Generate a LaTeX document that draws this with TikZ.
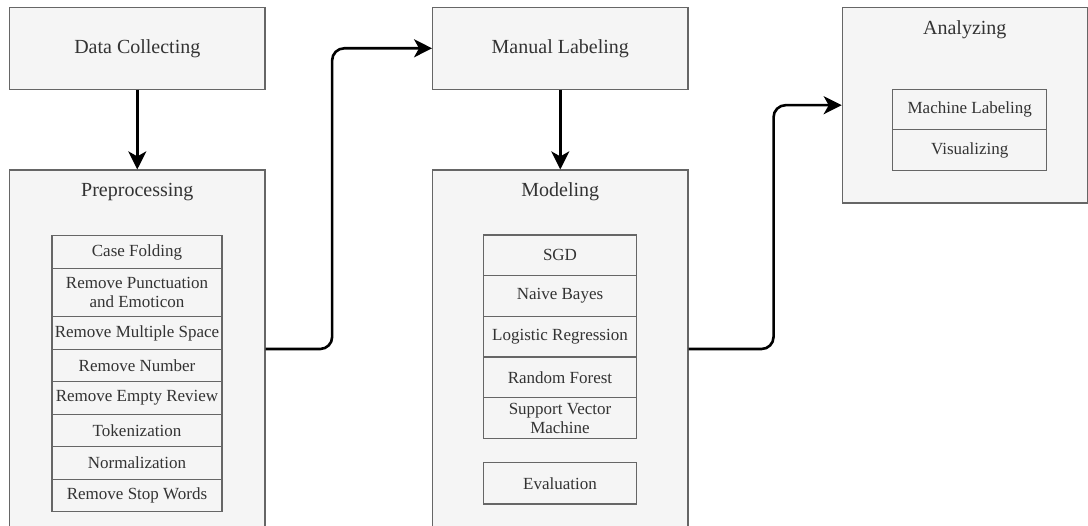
\documentclass[tikz,border=0pt]{standalone}
\usepackage{fontspec}
\setmainfont{LiberationSerif}[Extension=.ttf, UprightFont=*-Regular, BoldFont=*-Bold]
\usepackage{tikz}
\usetikzlibrary{arrows.meta}

\definecolor{boxfill}{HTML}{F5F5F5}
\definecolor{boxline}{HTML}{666666}
\definecolor{boxtext}{HTML}{333333}

\begin{document}
\begin{tikzpicture}[x=1pt, y=-1pt, >={Stealth[length=18pt,width=18pt,inset=5pt]},
  stagebox/.style={draw=boxline, fill=boxfill, line width=1.2pt, text=boxtext,
    font=\fontsize{20}{24}\selectfont, inner sep=0pt},
  stagetitle/.style={text=boxtext, font=\fontsize{20}{24}\selectfont, inner sep=0pt},
  stepitem/.style={draw=boxline, fill=boxfill, line width=1.2pt, text=boxtext,
    align=center, font=\fontsize{17}{19}\selectfont, inner sep=0pt},
  flowline/.style={->, line width=2.6pt, rounded corners=12pt}]
\useasboundingbox (0,0) rectangle (1088,526);
\clip (0,0) rectangle (1088,526);

% stages of the pipeline
\node[stagebox, minimum width=255.5, minimum height=82] (collect) at (137.3,48.3) {Data Collecting};
\node[stagebox, minimum width=255.5, minimum height=358] (pre) at (137.3,349) {};
\node[stagebox, minimum width=255.3, minimum height=82] (manual) at (560.3,48.3) {Manual Labeling};
\node[stagebox, minimum width=255.3, minimum height=358] (model) at (560.3,349) {};
\node[stagebox, minimum width=245, minimum height=195.7] (analyze) at (964.8,105.2) {};

\node[stagetitle] (pre-title) at (137.3,192) {Preprocessing};
\node[stagetitle] (model-title) at (560.3,192) {Modeling};
\node[stagetitle] (analyze-title) at (964.8,30) {Analyzing};

% preprocessing steps
\foreach \y/\h/\txt [count=\i] in {
    251.95/32.5/Case Folding,
    292.45/48.5/{Remove Punctuation\\and Emoticon},
    332.95/32.5/Remove Multiple Space,
    365.45/32.5/Remove Number,
    397.95/32.5/Remove Empty Review,
    430.45/32.5/Tokenization,
    462.95/32.5/Normalization,
    495.45/32.5/Remove Stop Words}{
  \node[stepitem, minimum width=170, minimum height=\h] (pre-\i) at (137,\y) {\txt};
}

% classifiers
\foreach \txt [count=\i] in {SGD, Naive Bayes, Logistic Regression, Random Forest,
    {Support Vector\\Machine}}{
  \node[stepitem, minimum width=153.4, minimum height=40.7] (model-\i) at (560,214.65+\i*40.7) {\txt};
}
\node[stepitem, minimum width=153.4, minimum height=41.3] (eval) at (560,483.35) {Evaluation};

% analysis steps
\node[stepitem, minimum width=154, minimum height=40.7] (machine) at (969.7,109.5) {Machine Labeling};
\node[stepitem, minimum width=154, minimum height=40.7] (visual) at (969.7,150.2) {Visualizing};

% flow between stages
\draw[flowline] (collect.south) -- (pre.north);
\draw[flowline] (manual.south) -- (model.north);
\draw[flowline] (pre.east) -- ++(66.5,0) |- (manual.west);
\draw[flowline] (model.east) -- ++(85,0) |- (analyze.west);
\end{tikzpicture}
\end{document}
